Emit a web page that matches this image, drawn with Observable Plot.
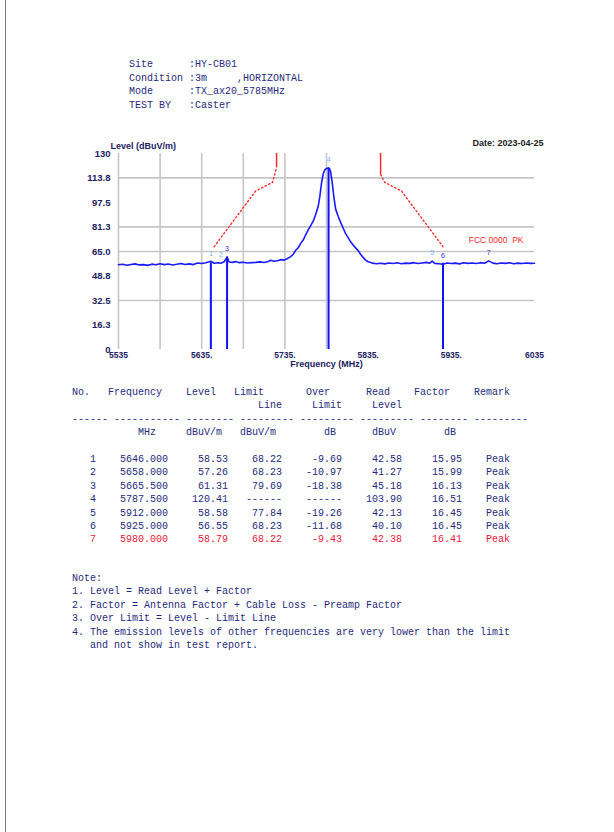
<!DOCTYPE html>
<html>
<head>
<meta charset="utf-8">
<script src="https://cdn.jsdelivr.net/npm/d3@7"></script>
<script src="https://cdn.jsdelivr.net/npm/@observablehq/plot@0.6"></script>
<style>
  html, body { margin: 0; padding: 0; background: #fff; }
  body { width: 614px; height: 832px; position: relative; overflow: hidden; }
  .frame { position: absolute; left: 5px; top: 0; width: 0; height: 832px; border-left: 1px solid #777; }
  pre { margin: 0; position: absolute; font-family: "Liberation Mono", "DejaVu Sans Mono", monospace; font-size: 10px; line-height: 13.4px; color: #1f2a7a; }
  #head { left: 129px; top: 58px; line-height: 13.7px; }
  #table { left: 72px; top: 386px; }
  #notes { left: 72px; top: 571.5px; line-height: 13.6px; }
  #chart { position: absolute; left: 60px; top: 130px; }
  .red { color: #e8183c; }
</style>
</head>
<body>
<div class="frame"></div>
<pre id="head"></pre>
<div id="chart"></div>
<pre id="table"></pre>
<pre id="notes"></pre>
<script>
// ---------- header info ----------
const headLabels = ["Site", "Condition", "Mode", "TEST BY"];
const headValues = ["HY-CB01", "3m     ,HORIZONTAL", "TX_ax20_5785MHz", "Caster"];

// ---------- chart data ----------
const xDomain = [5535, 6035];
const yDomain = [0, 130];
const xTicks = [5535, 5635, 5735, 5835, 5935, 6035];
const xTickLabels = ["5535", "5635.", "5735.", "5835.", "5935.", "6035"];
const yTicks = [0, 16.3, 32.5, 48.8, 65.0, 81.3, 97.5, 113.8, 130];
const yTickLabels = ["0", "16.3", "32.5", "48.8", "65.0", "81.3", "97.5", "113.8", "130"];
const vGrid = [5535, 5585, 5635, 5685, 5735, 5785];
const hGrid = [32.5, 65.0, 81.3, 113.8];

// measured trace (frequency MHz, level dBuV/m)
const traceFreq = [5535,5540,5545,5550,5555,5560,5565,5570,5575,5580,5585,5590,5595,5600,5605,5610,5615,5620,5625,5630,5635,5640,5646,5650,5655,5658,5662,5665.5,5668,5672,5676,5680,5685,5690,5695,5700,5705,5710,5715,5718,5722,5726,5730,5734,5738,5742,5745,5748,5751,5754,5757,5760,5763,5766,5769,5772,5775,5777,5779,5781,5783,5785,5787.5,5789,5790,5792,5794,5796,5799,5802,5805,5808,5811,5814,5817,5820,5823,5826,5829,5832,5835,5840,5845,5850,5855,5860,5865,5870,5875,5880,5885,5890,5895,5900,5905,5909,5912,5915,5920,5925,5930,5935,5940,5945,5950,5955,5960,5965,5970,5975,5980,5985,5990,5995,6000,6005,6010,6015,6020,6025,6030,6035];
const traceLevel = [56.2,56.5,55.9,56.4,56.8,56.1,56.3,55.8,56.6,56.2,56.9,56.3,56.7,56.0,56.5,57.1,56.4,56.8,56.3,57.4,57.0,57.6,58.53,57.2,57.5,57.26,58.2,61.31,58.0,57.8,58.3,57.6,57.9,57.4,57.6,57.8,58.1,57.7,58.4,59.2,58.6,58.9,59.6,59.3,60.4,61.6,63.2,65.8,67.5,70.4,72.6,76.1,79.3,82.2,85.1,89.6,94.8,101.5,110.3,116.4,119.2,120.1,120.41,119.6,117.8,110.2,100.5,93.1,88.4,84.3,80.6,76.9,74.2,71.5,69.3,67.4,65.6,63.2,61.1,59.3,58.2,57.3,56.9,57.2,56.8,57.4,57.0,57.5,56.9,57.3,57.1,57.6,57.0,57.4,57.8,57.2,58.58,57.1,56.9,56.55,57.4,57.0,57.3,56.8,57.5,57.1,57.4,57.0,57.6,57.2,58.79,57.3,56.9,57.4,57.1,57.5,56.9,57.3,57.0,57.4,57.1,57.2];

// spikes drawn from 0 up to the trace
const spikeFreq = [5646, 5665.5, 5787.5, 5925];
const spikeLevel = [57.5, 61.3, 120.41, 57.2];

// FCC limit line (band edge mask)
const limitLeftFreq = [5650, 5700, 5720, 5725];
const limitLeftLevel = [68.2, 105.2, 110.8, 120.5];
const limitRightFreq = [5850, 5855, 5875, 5925];
const limitRightLevel = [116.0, 110.8, 105.2, 68.2];
const limitEdgeFreq = [5725, 5850];
const limitEdgeLow = [120.5, 116.0];
const limitLabel = "FCC 0000  PK";
const dateText = "Date: 2023-04-25";
const yTitle = "Level (dBuV/m)";
const xTitle = "Frequency (MHz)";

// ---------- marker table ----------
const mkNo = [1, 2, 3, 4, 5, 6, 7];
const mkFreq = [5646.000, 5658.000, 5665.500, 5787.500, 5912.000, 5925.000, 5980.000];
const mkLevel = ["58.53", "57.26", "61.31", "120.41", "58.58", "56.55", "58.79"];
const mkLimit = ["68.22", "68.23", "79.69", "------", "77.84", "68.23", "68.22"];
const mkOver = ["-9.69", "-10.97", "-18.38", "------", "-19.26", "-11.68", "-9.43"];
const mkRead = ["42.58", "41.27", "45.18", "103.90", "42.13", "40.10", "42.38"];
const mkFactor = ["15.95", "15.99", "16.13", "16.51", "16.45", "16.45", "16.41"];
const mkRemark = ["Peak", "Peak", "Peak", "Peak", "Peak", "Peak", "Peak"];

const notes = [
  "Note:",
  "1. Level = Read Level + Factor",
  "2. Factor = Antenna Factor + Cable Loss - Preamp Factor",
  "3. Over Limit = Level - Limit Line",
  "4. The emission levels of other frequencies are very lower than the limit",
  "   and not show in test report."
];

// ---------- header ----------
document.getElementById("head").textContent =
  headLabels.map((l, i) => l.padEnd(10) + ":" + headValues[i]).join("\n");

// ---------- chart ----------
const trace = traceFreq.map((f, i) => ({f, v: traceLevel[i]}));
const spikes = spikeFreq.map((f, i) => ({f, v: spikeLevel[i]}));
const limL = limitLeftFreq.map((f, i) => ({f, v: limitLeftLevel[i]}));
const limR = limitRightFreq.map((f, i) => ({f, v: limitRightLevel[i]}));
const limE = limitEdgeFreq.map((f, i) => ({f, v: limitEdgeLow[i]}));
const markers = mkNo.map((n, i) => ({n, f: mkFreq[i], v: +mkLevel[i]}));

const navy = "#1c2260";
const chart = Plot.plot({
  width: 500,
  height: 245,
  marginLeft: 58,
  marginRight: 26,
  marginTop: 23,
  marginBottom: 26,
  x: {domain: xDomain},
  y: {domain: yDomain},
  style: {fontFamily: "Liberation Sans, Arial, sans-serif", fontSize: "8px", fontWeight: "bold", color: navy, background: "#fff"},
  marks: [
    Plot.ruleY(hGrid, {stroke: "#c6c6c6", strokeWidth: 1.6}),
    Plot.ruleX(vGrid, {y1: yDomain[0], y2: yDomain[1], stroke: "#c6c6c6", strokeWidth: 1.6}),
    Plot.axisX(xTicks, {tickSize: 0, tickPadding: 2, tickFormat: d => xTickLabels[xTicks.indexOf(d)], label: null, fill: navy, fontSize: 8.5}),
    Plot.axisY(yTicks, {tickSize: 0, tickPadding: 8, tickFormat: d => yTickLabels[yTicks.indexOf(d)], label: null, fill: navy, fontSize: 9.5}),
    Plot.line(limL, {x: "f", y: "v", stroke: "#ff2a2a", strokeWidth: 1.4, strokeDasharray: "1.4,2.6"}),
    Plot.line(limR, {x: "f", y: "v", stroke: "#ff2a2a", strokeWidth: 1.4, strokeDasharray: "1.4,2.6"}),
    Plot.ruleX(limE, {x: "f", y1: "v", y2: yDomain[1], stroke: "#ff2a2a", strokeWidth: 1.5}),
    Plot.ruleX(spikes, {x: "f", y1: 0, y2: "v", stroke: "#1010ff", strokeWidth: 2}),
    Plot.line(trace, {x: "f", y: "v", stroke: "#1a1aff", strokeWidth: 1.6}),
    Plot.text(markers, {x: "f", y: "v", text: d => String(d.n), dy: -8, fontSize: 7, fontWeight: "normal",
      fill: d => [1, 2, 4, 5].includes(d.n) ? "#74b0ff" : "#2a2ae0"}),
    Plot.text([yTitle], {frameAnchor: "top-left", dx: -8, dy: -11, textAnchor: "start", fontSize: 9, fill: navy}),
    Plot.text([dateText], {frameAnchor: "top-right", dx: 9, dy: -14, textAnchor: "end", fontSize: 9, fill: "#222"}),
    Plot.text([xTitle], {frameAnchor: "bottom", dy: 17, fontSize: 9, fill: navy}),
    Plot.text([limitLabel], {frameAnchor: "right", dx: -11, dy: -11, textAnchor: "end", fontSize: 8.5, fontWeight: "normal", fill: "#ff2a2a"})
  ]
});
document.getElementById("chart").appendChild(chart);

// ---------- table ----------
function place(parts) {
  let s = "";
  for (const [col, txt] of parts) {
    s = s.padEnd(col) + txt;
  }
  return s;
}
const tableLines = [
  place([[0, "No."], [6, "Frequency"], [19, "Level"], [27, "Limit"], [39, "Over"], [49, "Read"], [57, "Factor"], [67, "Remark"]]),
  place([[31, "Line"], [40, "Limit"], [50, "Level"]]),
  "------ ----------- -------- --------- --------- --------- -------- ---------",
  place([[11, "MHz"], [19, "dBuV/m"], [28, "dBuV/m"], [42, "dB"], [50, "dBuV"], [62, "dB"]]),
  ""
];
const rowLines = mkNo.map((n, i) =>
  String(n).padStart(4) + "    " + mkFreq[i].toFixed(3) +
  mkLevel[i].padStart(10) + mkLimit[i].padStart(9) + mkOver[i].padStart(10) +
  mkRead[i].padStart(10) + mkFactor[i].padStart(10) + "    " + mkRemark[i]);
const tbl = document.getElementById("table");
tbl.textContent = tableLines.join("\n") + "\n";
rowLines.forEach((line, i) => {
  const span = document.createElement("span");
  if (i === rowLines.length - 1) span.className = "red";
  span.textContent = line + (i < rowLines.length - 1 ? "\n" : "");
  tbl.appendChild(span);
});

document.getElementById("notes").textContent = notes.join("\n");
</script>
</body>
</html>
